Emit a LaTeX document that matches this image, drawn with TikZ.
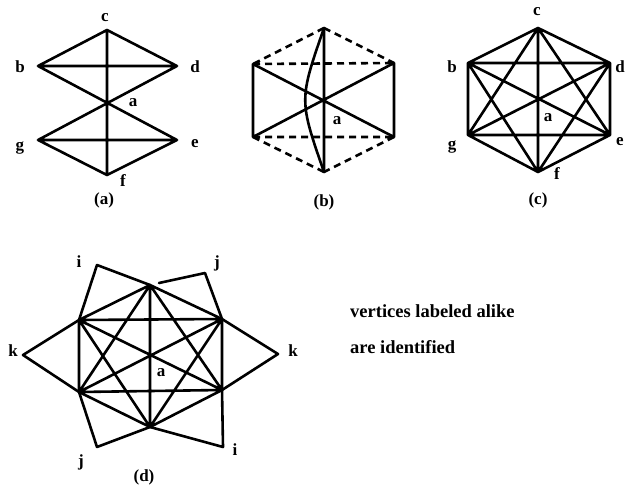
\documentclass[tikz,border=0pt]{standalone}
\usepackage{fontspec}
\setmainfont{Liberation Serif}
\begin{document}
\begin{tikzpicture}[x=1pt,y=-1pt,
  edge/.style={line width=2.6pt,line cap=round,line join=round},
  dedge/.style={edge,dash pattern=on 7pt off 5pt,line cap=butt},
  lab/.style={font=\bfseries\fontsize{17}{19}\selectfont,inner sep=0pt},
  captext/.style={font=\bfseries\fontsize{17}{19}\selectfont,inner sep=0pt},
  note/.style={font=\bfseries\fontsize{18.5}{21}\selectfont,inner sep=0pt,anchor=base west}]
\useasboundingbox (0,0) rectangle (626,490);
% ---------- (a)
\coordinate (ac) at (107,30);
\coordinate (ab) at (38,66);
\coordinate (ad) at (177,66);
\coordinate (aa) at (107,103);
\coordinate (ag) at (38,140);
\coordinate (ae) at (177,140);
\coordinate (af) at (107,175);
\draw[edge] (ac)--(ab) (ac)--(ad) (ab)--(ad) (ab)--(ae) (ad)--(ag) (ac)--(af)
  (ag)--(ae) (ag)--(af) (af)--(ae);
\node[lab] (lac) at (105,18) {c};
\node[lab] (lab) at (20,67) {b};
\node[lab] (lad) at (195,67) {d};
\node[lab] (laa) at (133,103) {a};
\node[lab] (lag) at (20,148) {g};
\node[lab] (lae) at (195,144) {e};
\node[lab] (laf) at (123,181) {f};
\node[captext] (capa) at (104,200) {(a)};
% ---------- (b)
\coordinate (bt) at (324,28);
\coordinate (bul) at (253,64);
\coordinate (bur) at (394,63);
\coordinate (bll) at (253,137);
\coordinate (blr) at (394,137);
\coordinate (bb) at (324,172);
\draw[dedge] (bt)--(bul) (bt)--(bur) (bul)--(bur) (bll)--(blr) (bll)--(bb) (blr)--(bb);
\draw[edge] (bul)--(bll) (bur)--(blr) (bul)--(blr) (bur)--(bll) (bt)--(bb);
\draw[edge] (bt) .. controls (299,100) .. (bb);
\node[lab] (lba) at (337,121) {a};
\node[captext] (capb) at (324,202) {(b)};
% ---------- (c)
\coordinate (cc) at (538,28);
\coordinate (cb) at (468,63);
\coordinate (cd) at (610,63);
\coordinate (cg) at (468,135);
\coordinate (ce) at (610,135);
\coordinate (cf) at (538,172);
\draw[edge] (cc)--(cb) (cc)--(cd) (cc)--(cg) (cc)--(ce) (cc)--(cf)
  (cb)--(cd) (cb)--(cg) (cb)--(ce) (cb)--(cf)
  (cd)--(cg) (cd)--(ce) (cd)--(cf)
  (cg)--(ce) (cg)--(cf) (ce)--(cf);
\node[lab] (lcc) at (537,12) {c};
\node[lab] (lcb) at (452,67) {b};
\node[lab] (lcd) at (620,67) {d};
\node[lab] (lcg) at (452,147) {g};
\node[lab] (lce) at (620,142) {e};
\node[lab] (lcf) at (557,174) {f};
\node[lab] (lca) at (548,118) {a};
\node[captext] (capc) at (538,200) {(c)};
% ---------- (d)
\coordinate (dt) at (150,285);
\coordinate (dul) at (79,320);
\coordinate (dur) at (222,319);
\coordinate (dll) at (79,392);
\coordinate (dlr) at (222,390);
\coordinate (db) at (150,427);
\draw[edge] (dt)--(dul) (dt)--(dur) (dt)--(dll) (dt)--(dlr) (dt)--(db)
  (dul)--(dur) (dul)--(dll) (dul)--(dlr) (dul)--(db)
  (dur)--(dll) (dur)--(dlr) (dur)--(db)
  (dll)--(dlr) (dll)--(db) (dlr)--(db);
\coordinate (di1) at (97,265);
\coordinate (dj1) at (205,273);
\coordinate (djend) at (159,283);
\coordinate (dk1) at (23,355);
\coordinate (dk2) at (278,354);
\coordinate (dj2) at (97,447);
\coordinate (di2) at (223,447);
\draw[edge] (dul)--(di1)--(dt);
\draw[edge] (djend)--(dj1)--(dur);
\draw[edge] (dul)--(dk1)--(dll);
\draw[edge] (dur)--(dk2)--(dlr);
\draw[edge] (dll)--(dj2)--(db);
\draw[edge] (db)--(di2)--(dlr);
\node[lab] (ldi1) at (79,262) {i};
\node[lab] (ldj1) at (217,263) {j};
\node[lab] (ldk1) at (13,351) {k};
\node[lab] (ldk2) at (293,351) {k};
\node[lab] (ldj2) at (81,462) {j};
\node[lab] (ldi2) at (235,450) {i};
\node[lab] (lda) at (161,373) {a};
\node[captext] (capd) at (144,477) {(d)};
% ---------- note
\node[note] (n1) at (350,317) {vertices labeled alike};
\node[note] (n2) at (350,353) {are identified};
\end{tikzpicture}
\end{document}
